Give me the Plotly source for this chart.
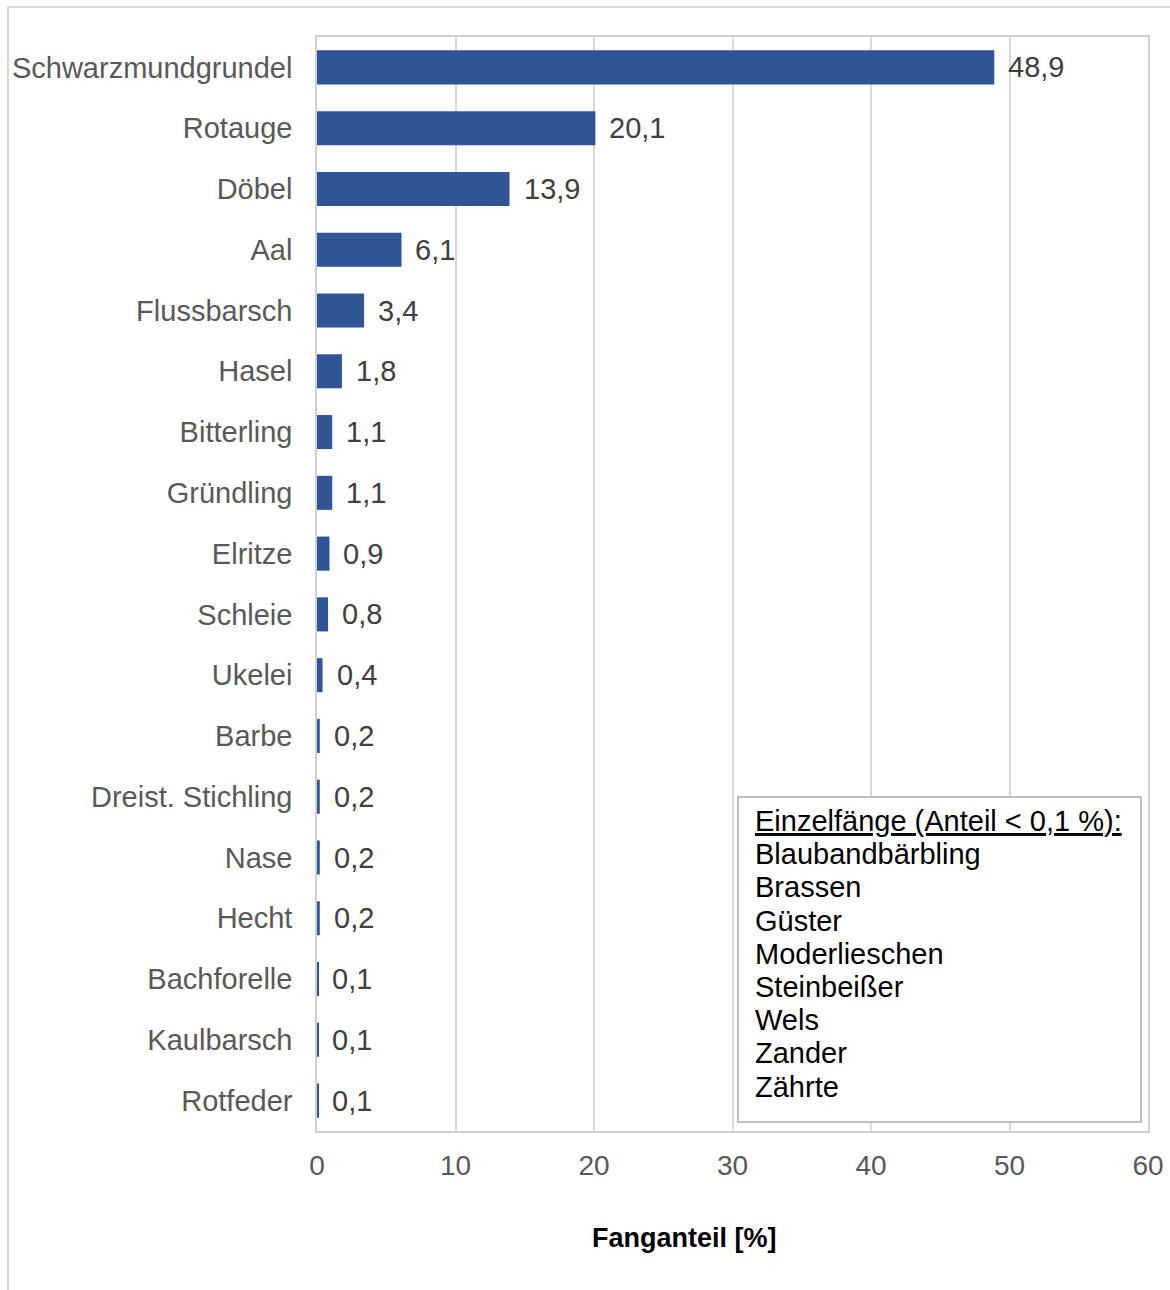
import plotly.graph_objects as go

# Catch shares per species (percent), top to bottom
species = [
    "Schwarzmundgrundel", "Rotauge", "Döbel", "Aal", "Flussbarsch", "Hasel",
    "Bitterling", "Gründling", "Elritze", "Schleie", "Ukelei", "Barbe",
    "Dreist. Stichling", "Nase", "Hecht", "Bachforelle", "Kaulbarsch", "Rotfeder",
]
share = [48.9, 20.1, 13.9, 6.1, 3.4, 1.8, 1.1, 1.1, 0.9, 0.8, 0.4, 0.2,
         0.2, 0.2, 0.2, 0.1, 0.1, 0.1]

# Single catches listed in the info box
single_catch_title = "Einzelfänge (Anteil < 0,1 %):"
single_catches = ["Blaubandbärbling", "Brassen", "Güster", "Moderlieschen",
                  "Steinbeißer", "Wels", "Zander", "Zährte"]

x_ticks = [0, 10, 20, 30, 40, 50, 60]

FONT = "Liberation Sans, Arial, sans-serif"
BAR_COLOR = "#2F5597"
GRID = "#d9d9d9"

W, H = 1170, 1290
ML, MR, MT, MB = 317, 22, 37, 159
PW, PH = W - ML - MR, H - MT - MB


def px(x):
    return (x - ML) / PW


def py(y):
    return (H - MB - y) / PH


fig = go.Figure()
fig.add_trace(go.Bar(
    x=share, y=species, orientation="h",
    marker=dict(color=BAR_COLOR, line=dict(width=0)),
    hoverinfo="x+y",
))

annotations = []
# value labels next to each bar
for s, v in zip(species, share):
    annotations.append(dict(
        x=v, y=s, xref="x", yref="y", text=f"{v:.1f}".replace(".", ","),
        showarrow=False, xanchor="left", xshift=12,
        font=dict(family=FONT, size=29, color="#404040"),
    ))

# axis title
annotations.append(dict(
    x=px(684), y=py(1238), xref="paper", yref="paper",
    text="<b>Fanganteil [%]</b>", showarrow=False,
    xanchor="center", yanchor="middle",
    font=dict(family=FONT, size=27, color="#000000"),
))

# info box lines
box_lines = [f"<u>{single_catch_title}</u>"] + single_catches
for i, line in enumerate(box_lines):
    annotations.append(dict(
        x=px(753), y=py(821 + i * 33.2), xref="paper", yref="paper",
        text=line, showarrow=False, xanchor="left", yanchor="middle",
        font=dict(family=FONT, size=29, color="#000000"),
    ))

shapes = [
    # outer chart frame
    dict(type="rect", xref="paper", yref="paper",
         x0=px(8), x1=px(1185), y0=py(1310), y1=py(7),
         line=dict(color=GRID, width=2), fillcolor="rgba(0,0,0,0)", layer="below"),
    # info box
    dict(type="rect", xref="paper", yref="paper",
         x0=px(738), x1=px(1141), y0=py(1122), y1=py(797),
         line=dict(color="#bfbfbf", width=2), fillcolor="white", layer="above"),
]

fig.update_layout(
    width=W, height=H,
    margin=dict(l=ML, r=MR, t=MT, b=MB, autoexpand=False),
    paper_bgcolor="white", plot_bgcolor="white",
    showlegend=False,
    bargap=0.44,
    separators=",.",
    font=dict(family=FONT, size=29, color="#595959"),
    xaxis=dict(
        range=[0, 60], tickvals=x_ticks, showgrid=True, gridcolor=GRID, gridwidth=1.5,
        zeroline=False, showline=True, linecolor="#d0d0d0", linewidth=1.5, mirror=True,
        ticks="", ticklabelstandoff=9, automargin=False,
        tickfont=dict(family=FONT, size=28, color="#595959"),
        fixedrange=True,
    ),
    yaxis=dict(
        categoryorder="array", categoryarray=species, autorange="reversed",
        showgrid=False, zeroline=False, showline=True, linecolor="#d0d0d0",
        linewidth=1.5, mirror=True, ticks="", ticklabelstandoff=17, automargin=False,
        tickfont=dict(family=FONT, size=29, color="#595959"),
        fixedrange=True,
    ),
    annotations=annotations,
    shapes=shapes,
)

fig.write_html("out.html")
